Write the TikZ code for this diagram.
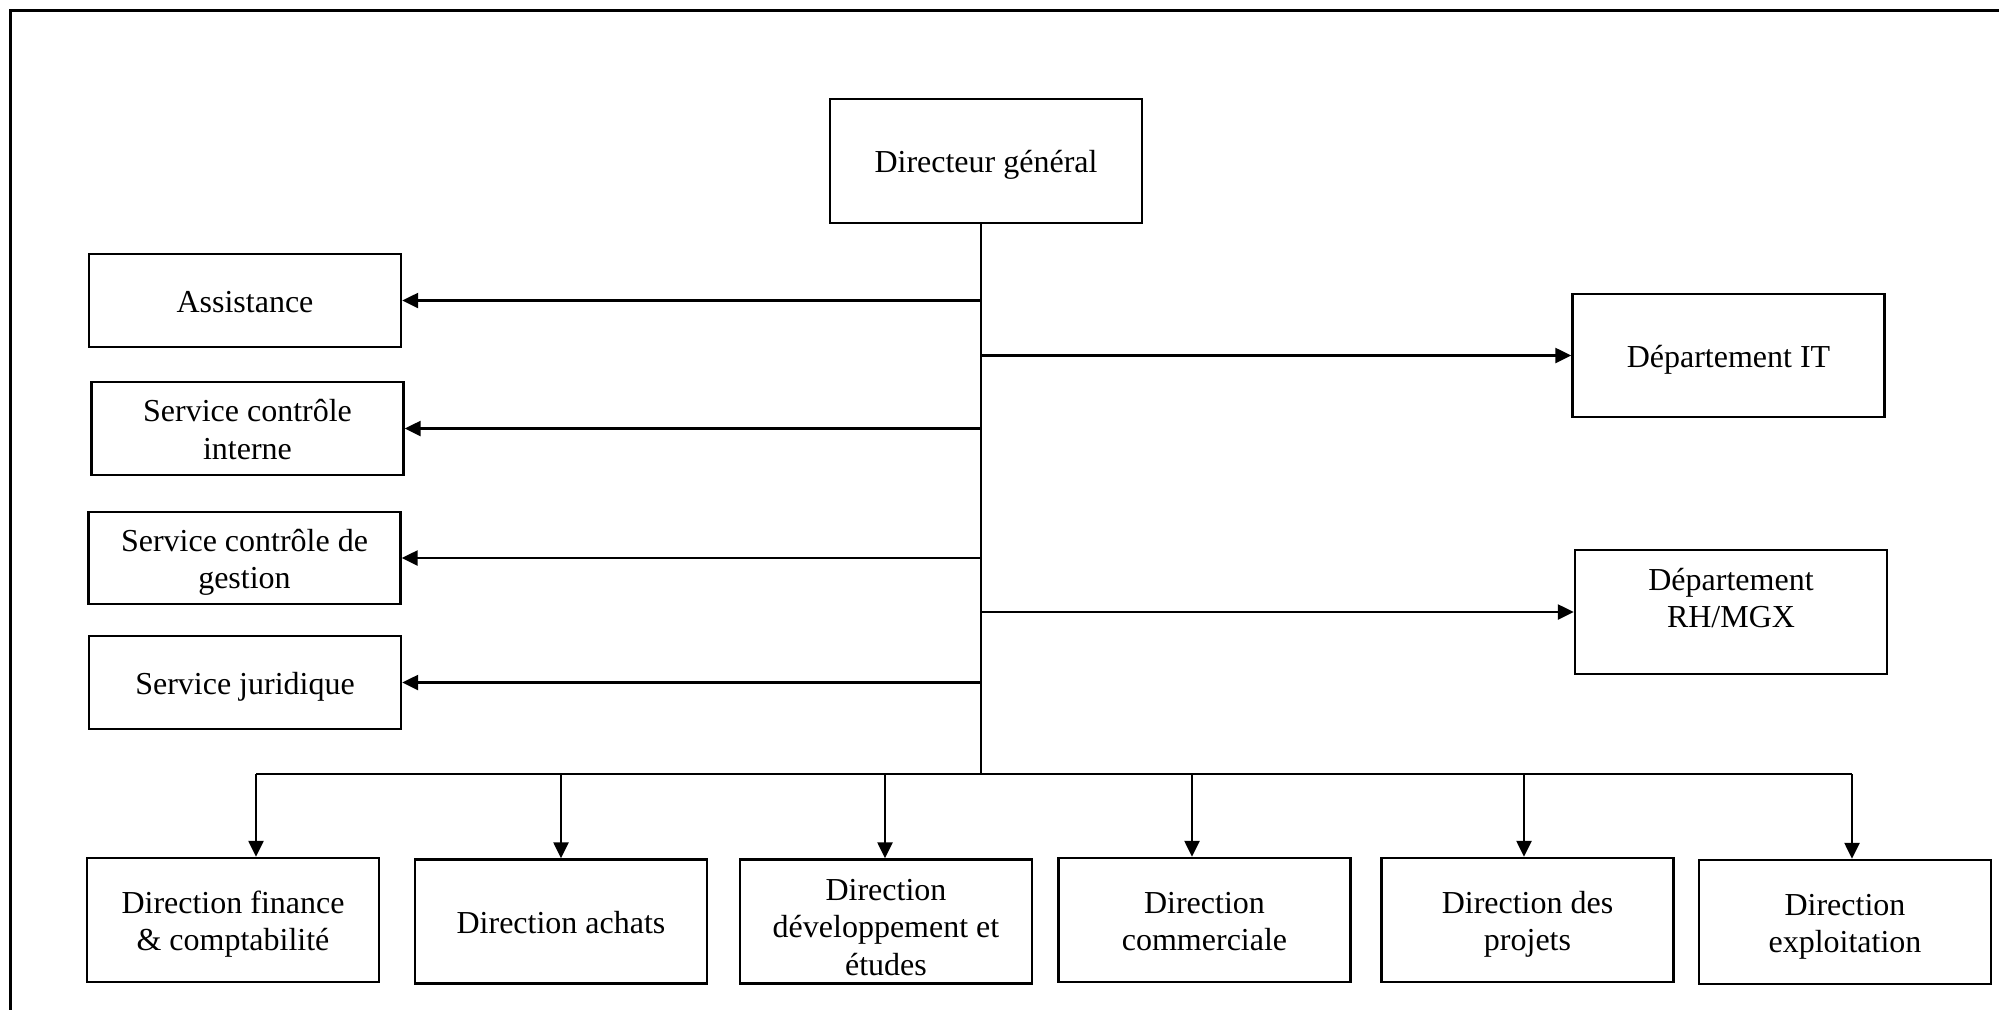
\documentclass[tikz,border=0pt]{standalone}
\usepackage{fontspec}
\setmainfont{Liberation Serif}
\usetikzlibrary{arrows.meta}
\newcommand\mystrutw{\rule[-3.2pt]{0pt}{18.4pt}}
\begin{document}
\begin{tikzpicture}[x=0.5pt,y=-0.5pt,
  txt/.style={inner sep=0pt, align=center, font=\fontsize{16}{18.75}\selectfont},
  box/.style={txt, draw, line width=1.2pt},
  sidebox/.style={box, minimum width=156pt, minimum height=46.5pt},
  rightbox/.style={box, minimum width=156pt, minimum height=62pt},
  botbox/.style={box, minimum width=146pt, minimum height=62pt},
  arr/.style={line width=1.2pt, -{Triangle[length=8pt,width=7.5pt]}},
  ln/.style={line width=1.2pt}]
\useasboundingbox (0,0) rectangle (1999,1009);
\clip (0,0) rectangle (1999,1009);
\draw[line width=1.5pt] (10,10) rectangle (2030,1040);

% top
\node[box, minimum width=156pt, minimum height=62pt] (dg) at (986,161) {\mystrutw Directeur général};

% left column
\node[sidebox] (as)  at (245,300.5) {\mystrutw Assistance};
\node[sidebox] (sci) at (247.5,428.5) {\mystrutw Service contrôle\\interne\mystrutw};
\node[sidebox, minimum height=46pt] (scg) at (244.5,558) {\mystrutw Service contrôle de\\gestion\mystrutw};
\node[sidebox] (sj)  at (245,682.5) {\mystrutw Service juridique};

% right column
\node[rightbox, minimum height=61.5pt] (it) at (1728.5,355.5) {\mystrutw Département IT};
\node[rightbox] (rh) at (1731,612) {};
\node[txt] (rht) at (1731,597) {\mystrutw Département\\RH/MGX\mystrutw};

% bottom row
\node[botbox] (df)  at (233,920)    {\mystrutw Direction finance\\\& comptabilité\mystrutw};
\node[botbox] (da)  at (561,921.5)  {\mystrutw Direction achats};
\node[botbox] (dde) at (886,921.5)  {};
\node[txt] (ddet) at (886,925.5) {\mystrutw Direction\\développement et\\études\mystrutw};
\node[botbox] (dc)  at (1204.5,920) {\mystrutw Direction\\commerciale\mystrutw};
\node[botbox] (dp)  at (1527.5,920) {\mystrutw Direction des\\projets\mystrutw};
\node[botbox] (de)  at (1845,922)   {\mystrutw Direction\\exploitation\mystrutw};

% trunk and bus
\coordinate (tx) at (981,0);
\coordinate (bl) at (256,774);
\coordinate (br) at (1852,774);
\draw[ln] (dg.south -| tx) -- (tx |- bl);
\draw[ln] (bl) -- (br);

% side branches
\draw[arr] (tx |- as.east)  -- (as.east);
\draw[arr] (tx |- sci.east) -- (sci.east);
\draw[arr] (tx |- scg.east) -- (scg.east);
\draw[arr] (tx |- sj.east)  -- (sj.east);
\draw[arr] (tx |- it.west)  -- (it.west);
\draw[arr] (tx |- rh.west)  -- (rh.west);

% drops
\foreach \x/\n in {256/df,561/da,885/dde,1192/dc,1524/dp,1852/de}{
  \coordinate (d\n) at (\x,774);
  \draw[arr] (d\n) -- (d\n |- \n.north);
}
\end{tikzpicture}
\end{document}
